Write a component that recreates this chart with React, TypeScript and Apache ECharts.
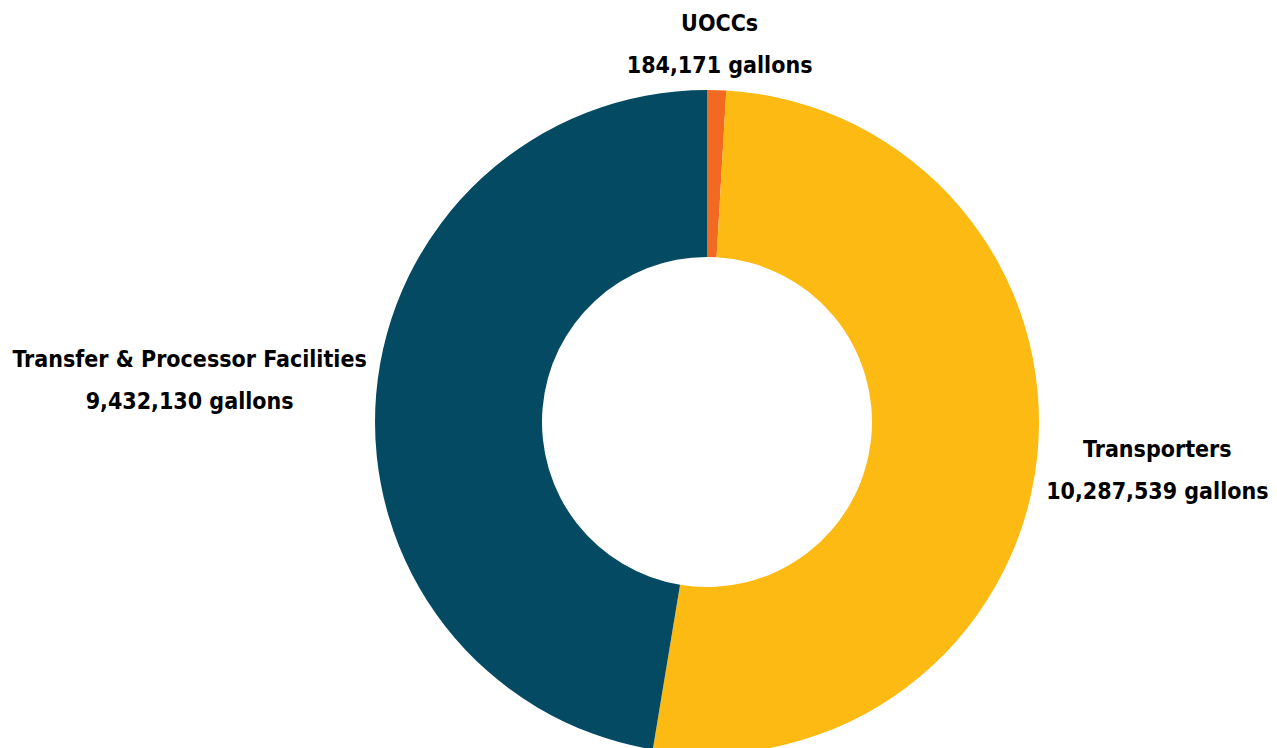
import React, { useEffect, useRef } from "react";
import * as echarts from "echarts";

const categories = ["UOCCs", "Transporters", "Transfer & Processor Facilities"];
const values = [184171, 10287539, 9432130];
const colors = ["#F26A21", "#FDBA13", "#054A63"];

// layout / style constants
const CX = 707;
const CY = 422;
const R_OUT = 332;
const R_IN = 165;
const OFFSET_X = 10;
const OFFSET_Y = 4;
const LABEL_NUDGE_Y = [0, 6, -11];

export default function App() {
  const ref = useRef<HTMLDivElement>(null);
  useEffect(() => {
    document.body.style.margin = "0";
    const chart = echarts.init(ref.current!, null, { renderer: "svg" });
    const total = values.reduce((a, b) => a + b, 0);
    const mids: number[] = [];
    let acc = 0;
    values.forEach((v) => {
      const start = 90 - (acc / total) * 360;
      acc += v;
      const end = 90 - (acc / total) * 360;
      mids.push(((start + end) / 2) * Math.PI / 180);
    });
    chart.setOption({
      animation: false,
      backgroundColor: "#ffffff",
      series: [
        {
          type: "pie",
          center: [CX, CY],
          radius: [R_IN, R_OUT],
          startAngle: 90,
          clockwise: true,
          avoidLabelOverlap: false,
          data: categories.map((c, i) => ({ name: c, value: values[i], itemStyle: { color: colors[i] } })),
          label: {
            show: true,
            position: "outside",
            formatter: (p: any) => `${p.name}\n${p.value.toLocaleString("en-US")} gallons`,
            fontFamily: "'DejaVu Sans Condensed', 'DejaVu Sans', sans-serif",
            fontWeight: "bold",
            fontSize: 23,
            lineHeight: 42,
            color: "#000000",
            align: "center",
          },
          labelLine: { show: false },
          labelLayout: (p: any) => {
            const i = p.dataIndex;
            const a = mids[i];
            const w = p.labelRect.width;
            const h = p.labelRect.height;
            const c = Math.cos(a);
            const s = Math.sin(a);
            const ax = CX + R_OUT * c;
            const ay = CY - R_OUT * s;
            return {
              x: ax + c * (OFFSET_X + w / 2),
              y: ay - s * (OFFSET_Y + h / 2) + LABEL_NUDGE_Y[i],
              align: "center",
              verticalAlign: "middle",
            };
          },
          emphasis: { disabled: true },
        },
      ],
    });
    return () => chart.dispose();
  }, []);
  return <div ref={ref} style={{ width: 1277, height: 748 }} />;
}
